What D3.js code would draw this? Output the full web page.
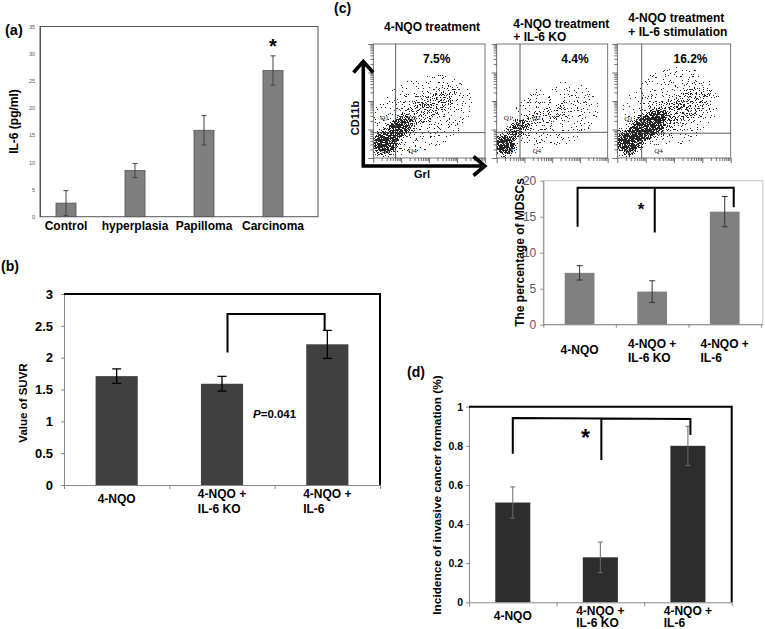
<!DOCTYPE html>
<html><head><meta charset="utf-8">
<script src="https://cdn.jsdelivr.net/npm/d3@7"></script>
<style>body{margin:0;background:#fff}svg{display:block}</style>
</head><body>
<script>
// ---------------- DATA ----------------
const categoriesA = ["Control", "hyperplasia", "Papilloma", "Carcinoma"];
const valuesA = [2.5, 8.5, 15.9, 26.9];
const errorsA = [2.3, 1.3, 2.7, 2.7];
const ticksA = [0, 5, 10, 15, 20, 25, 30, 35];

const groupLabels = [["4-NQO"], ["4-NQO +", "IL-6 KO"], ["4-NQO +", "IL-6"]];

const valuesB = [1.71, 1.59, 2.21];
const errorsB = [0.115, 0.115, 0.22];
const ticksB = [0, 0.5, 1, 1.5, 2, 2.5, 3];

const valuesC = [7.2, 4.6, 15.7];
const errorsC = [1.0, 1.5, 2.1];
const ticksC = [0, 5, 10, 15, 20];

const valuesD = [0.51, 0.23, 0.80];
const errorsD = [0.08, 0.078, 0.10];
const ticksD = [0, 0.2, 0.4, 0.6, 0.8, 1];

const flowTitles = [["4-NQO treatment"], ["4-NQO treatment", "+ IL-6 KO"], ["4-NQO treatment", "+ IL-6 stimulation"]];
const flowPercents = ["7.5%", "4.4%", "16.2%"];
const flowGateX = [0.80, 0.84, 0.86];   // log10 units
const flowGateY = [0.89, 0.90, 0.87];
const flowQuadrants = ["Q1", "Q2", "Q3", "Q4"];
// density clusters: [x(log10), y(log10), rx(dec), ry(dec), angle, density]
const flowDensity1 = [[1.67, 1.51, 2.2, 1.4, -25, 0.15], [1.96, 1.75, 1.6, 0.55, -32, 0.33], [0.9, 1.05, 0.7, 0.45, -35, 0.9], [0.42, 0.53, 0.62, 0.52, 0, 1]];
const flowDensity2 = [[2.1, 1.5, 1.9, 1.3, -20, 0.1], [1.74, 1.4, 1.5, 0.5, -22, 0.24], [0.75, 1.02, 0.6, 0.35, -35, 0.7], [0.30, 0.46, 0.52, 0.46, 0, 1]];
const flowDensity3 = [[1.86, 1.75, 2.0, 1.5, -25, 0.15], [2.14, 1.68, 1.6, 0.65, -28, 0.38], [1.08, 1.12, 0.95, 0.58, -35, 1], [0.38, 0.56, 0.66, 0.55, 0, 1]];
const flowDensity = [flowDensity1, flowDensity2, flowDensity3];

// ---------------- SETUP ----------------
const FONT = "'Liberation Sans', Arial, Helvetica, sans-serif";
const W = 765, H = 629;
const svg = d3.select("body").append("svg").attr("width", W).attr("height", H)
  .style("font-family", FONT);
svg.append("rect").attr("width", W).attr("height", H).attr("fill", "#fff");
const defs = svg.append("defs");

function text(g, x, y, s, o = {}) {
  const t = g.append("text").attr("x", x).attr("y", y).text(s)
    .attr("font-size", o.fs || 12).attr("font-weight", o.fw || "bold")
    .attr("fill", o.fill || "#000").attr("text-anchor", o.anchor || "start");
  if (o.italic) t.attr("font-style", "italic");
  if (o.rotate) t.attr("transform", `rotate(${o.rotate},${x},${y})`);
  if (o.dy) t.attr("dy", o.dy);
  if (o.family) t.attr("font-family", o.family);
  return t;
}

function barPanel(cfg) {
  const g = svg.append("g");
  const x = d3.scaleBand().domain(d3.range(cfg.values.length)).range(cfg.xRange)
    .paddingInner(cfg.pad).paddingOuter(cfg.pad / 2);
  const y = d3.scaleLinear().domain(cfg.yDomain).range(cfg.yRange);
  g.selectAll("rect.bar").data(cfg.values).join("rect").attr("class", "bar")
    .attr("x", (d, i) => x(i)).attr("y", d => y(d))
    .attr("width", x.bandwidth()).attr("height", d => y(0) - y(d))
    .attr("fill", cfg.fill).attr("stroke", cfg.stroke || "none").attr("stroke-width", cfg.strokeW || 0);
  const cw = cfg.capW / 2;
  g.selectAll("path.err").data(cfg.values).join("path").attr("class", "err")
    .attr("d", (d, i) => {
      const cx = x(i) + x.bandwidth() / 2, e = cfg.errors[i];
      const t = y(d + e), b = y(d - e);
      return `M${cx},${t}V${b}M${cx - cw},${t}H${cx + cw}M${cx - cw},${b}H${cx + cw}`;
    })
    .attr("stroke", cfg.errColor).attr("stroke-width", cfg.errW).attr("fill", "none");
  return { g, x, y };
}

function yAxis(p, ticks, o) {
  const ax = d3.axisLeft(p.y).tickValues(ticks).tickSize(o.tickSize).tickPadding(o.pad)
    .tickSizeOuter(0).tickFormat(d => String(d));
  const a = p.g.append("g").attr("transform", `translate(${o.x},0)`).call(ax);
  a.select(".domain").attr("stroke", o.lineColor).attr("stroke-width", o.lineW || 1);
  a.selectAll(".tick line").attr("stroke", o.lineColor);
  a.selectAll(".tick text").attr("font-family", FONT).attr("font-size", o.fs)
    .attr("font-weight", o.fw).attr("fill", o.color);
  return a;
}

function xAxis(p, n, o) {
  const r = p.x.range();
  const xb = d3.scaleLinear().domain([0, n]).range(r);
  const ax = d3.axisBottom(xb).tickValues(d3.range(n + 1)).tickSize(o.tickSize).tickSizeOuter(0).tickFormat("");
  const a = p.g.append("g").attr("transform", `translate(0,${p.y(0)})`).call(ax);
  a.select(".domain").attr("stroke", o.lineColor).attr("stroke-width", 1);
  a.selectAll(".tick line").attr("stroke", o.lineColor);
  if (o.domainRange) a.select(".domain").attr("d", `M${o.domainRange[0]},0H${o.domainRange[1]}`);
}

function catLabels(p, labels, o) {
  labels.forEach((lines, i) => {
    const cx = p.x(i) + p.x.bandwidth() / 2;
    if (lines.length === 1) {
      text(p.g, cx, o.single, lines[0], { fs: o.fs, anchor: "middle" });
    } else {
      const t1 = text(p.g, cx, o.l1, lines[0], { fs: o.fs, anchor: "middle" });
      const w = t1.node().getComputedTextLength();
      text(p.g, cx - w / 2, o.l2, lines[1], { fs: o.fs });
    }
  });
}

// ---------------- PANEL (a) ----------------
{
  const pA = barPanel({
    values: valuesA, errors: errorsA, xRange: [31.5, 307.5], pad: 0.71,
    yDomain: [0, 35], yRange: [216.7, 26.5], fill: "#7f7f7f", stroke: "#555", strokeW: 0.8,
    errColor: "#444", errW: 1, capW: 5
  });
  pA.g.insert("rect", ":first-child").attr("x", 40).attr("y", 26.5).attr("width", 278).attr("height", 190.2)
    .attr("fill", "none").attr("stroke", "#555").attr("stroke-width", 1);
  yAxis(pA, ticksA, { x: 40, tickSize: 0, pad: 5, lineColor: "#555", fs: 5.5, fw: "normal", color: "#555" });
  categoriesA.forEach((c, i) => {
    text(pA.g, pA.x(i) + pA.x.bandwidth() / 2, 230, c, { fs: 12, anchor: "middle" });
  });
  const iMax = valuesA.length - 1;
  text(pA.g, pA.x(iMax) + pA.x.bandwidth() / 2, pA.y(32) + 10, "*", { fs: 20, anchor: "middle" });
  text(pA.g, 14, 121.5, "IL-6 (pg/ml)", { fs: 12, anchor: "middle", rotate: -90, dy: "0.35em" });
  text(svg, 5, 35, "(a)", { fs: 14.5 });
}

// ---------------- PANEL (b) ----------------
{
  const pB = barPanel({
    values: valuesB, errors: errorsB, xRange: [64, 380], pad: 0.6,
    yDomain: [0, 3], yRange: [485, 294], fill: "#404040",
    errColor: "#000", errW: 1.3, capW: 9
  });
  yAxis(pB, ticksB, { x: 64, tickSize: 3, pad: 8, lineColor: "#888", fs: 13, fw: "bold", color: "#000" });
  xAxis(pB, 3, { tickSize: 4, lineColor: "#888" });
  pB.g.append("path").attr("d", `M64,${pB.y(3)}H380V${pB.y(0)}`).attr("fill", "none")
    .attr("stroke", "#000").attr("stroke-width", 2);
  catLabels(pB, groupLabels, { fs: 12, single: 503, l1: 498, l2: 512.5 });
  const c1 = pB.x(1) + pB.x.bandwidth() / 2, c2 = pB.x(2) + pB.x.bandwidth() / 2;
  pB.g.append("path").attr("d", `M${c1 + 5.5},${pB.y(2.08)}V${pB.y(2.685)}H${c2 - 2.7}V${pB.y(2.43)}`)
    .attr("fill", "none").attr("stroke", "#000").attr("stroke-width", 2);
  const pt = pB.g.append("text").attr("x", 253).attr("y", 418).attr("font-size", 11.5).attr("font-weight", "bold");
  pt.append("tspan").attr("font-style", "italic").text("P");
  pt.append("tspan").text("=0.041");
  text(pB.g, 22.5, 403, "Value of SUVR", { fs: 11.5, anchor: "middle", rotate: -90, dy: "0.35em" });
  text(svg, 1, 271, "(b)", { fs: 14 });
}

// ---------------- PANEL (c) flow plots ----------------
{
  const g = svg.append("g");
  text(g, 334, 13, "(c)", { fs: 14 });
  // speckle texture filter (turns density shading into grainy dots)
  const f = defs.append("filter").attr("id", "speck").attr("filterUnits", "userSpaceOnUse")
    .attr("x", 360).attr("y", 30).attr("width", 390).attr("height", 140)
    .attr("color-interpolation-filters", "sRGB");
  f.append("feTurbulence").attr("type", "fractalNoise").attr("baseFrequency", 0.85)
    .attr("numOctaves", 2).attr("seed", 7).attr("result", "noise");
  f.append("feColorMatrix").attr("in", "noise").attr("type", "matrix")
    .attr("values", "0 0 0 0 0  0 0 0 0 0  0 0 0 0 0  3.0 0 0 0 -0.9").attr("result", "na");
  f.append("feComposite").attr("in", "SourceAlpha").attr("in2", "na").attr("operator", "arithmetic")
    .attr("k1", 0).attr("k2", 1).attr("k3", -1).attr("k4", 0.47).attr("result", "diff");
  const ct = f.append("feComponentTransfer").attr("in", "diff").attr("result", "bin");
  ct.append("feFuncA").attr("type", "discrete").attr("tableValues", "0 1");
  f.append("feFlood").attr("flood-color", "#262626").attr("result", "col");
  f.append("feComposite").attr("in", "col").attr("in2", "bin").attr("operator", "in");

  const boxes = [[373.3, 485], [496.7, 607.7], [617.3, 730.7]];
  const top = 44, bot = 158;
  const titlePos = [[432, [31]], [513.3, [27.5, 40.5]], [628.3, [22, 36]]];
  const pctX = [436.7, 575, 690.5];

  boxes.forEach(([x0, x1], i) => {
    const xs = d3.scaleLinear().domain([0, 4]).range([x0, x1]);
    const ys = d3.scaleLinear().domain([0, 4]).range([bot, top]);
    const xl = d3.scaleLog().domain([1, 1e4]).range([x0, x1]);
    const yl = d3.scaleLog().domain([1, 1e4]).range([bot, top]);
    const pxX = (x1 - x0) / 4, pxY = (bot - top) / 4;

    defs.append("clipPath").attr("id", "fc" + i).append("rect")
      .attr("x", x0).attr("y", top).attr("width", x1 - x0).attr("height", bot - top);
    const dg = g.append("g").attr("clip-path", `url(#fc${i})`).append("g").attr("filter", "url(#speck)");
    flowDensity[i].forEach((d, j) => {
      const id = `grad${i}_${j}`;
      const rg = defs.append("radialGradient").attr("id", id);
      rg.append("stop").attr("offset", 0).attr("stop-color", "#000").attr("stop-opacity", d[5]);
      rg.append("stop").attr("offset", 0.55).attr("stop-color", "#000").attr("stop-opacity", d[5] * 0.85);
      rg.append("stop").attr("offset", 1).attr("stop-color", "#000").attr("stop-opacity", 0);
      const cx = xs(d[0]), cy = ys(d[1]);
      dg.append("ellipse").attr("cx", cx).attr("cy", cy).attr("rx", d[2] * pxX).attr("ry", d[3] * pxY)
        .attr("transform", `rotate(${d[4]},${cx},${cy})`).attr("fill", `url(#${id})`);
    });

    // frame
    g.append("rect").attr("x", x0).attr("y", top).attr("width", x1 - x0).attr("height", bot - top)
      .attr("fill", "none").attr("stroke", "#555").attr("stroke-width", 0.8);
    // gates
    g.append("line").attr("x1", xs(flowGateX[i])).attr("x2", xs(flowGateX[i])).attr("y1", top).attr("y2", bot)
      .attr("stroke", "#333").attr("stroke-width", 0.8);
    g.append("line").attr("x1", x0).attr("x2", x1).attr("y1", ys(flowGateY[i])).attr("y2", ys(flowGateY[i]))
      .attr("stroke", "#333").attr("stroke-width", 0.8);
    // log ticks
    const isMajor = v => Math.abs(Math.log10(v) - Math.round(Math.log10(v))) < 1e-9;
    const la = g.append("g").attr("transform", `translate(${x0},0)`)
      .call(d3.axisLeft(yl).tickValues(yl.ticks()).tickFormat("").tickSize(3).tickSizeOuter(0));
    la.select(".domain").remove();
    la.selectAll(".tick line").attr("stroke", "#333").attr("stroke-width", 0.7)
      .attr("x2", d => isMajor(d) ? -5 : -3);
    const ba = g.append("g").attr("transform", `translate(0,${bot})`)
      .call(d3.axisBottom(xl).tickValues(xl.ticks()).tickFormat("").tickSize(3).tickSizeOuter(0));
    ba.select(".domain").remove();
    ba.selectAll(".tick line").attr("stroke", "#333").attr("stroke-width", 0.7)
      .attr("y2", d => isMajor(d) ? 5 : 3);

    // quadrant labels
    const gx = xs(flowGateX[i]), gy = ys(flowGateY[i]);
    const qpos = [[x0 + 7, gy - 12.5], [gx + 12, gy - 12.5], [x0 + 8, 153], [gx + 12.5, 153]];
    flowQuadrants.forEach((q, k) => {
      text(g, qpos[k][0], qpos[k][1], q, { fs: 7, fw: "normal", family: "'Liberation Serif', 'DejaVu Serif', serif", fill: "#111" });
    });
    // titles
    const [tx, tys] = titlePos[i];
    flowTitles[i].forEach((s, k) => {
      text(g, tx, tys[k], s, { fs: 12, anchor: flowTitles[i].length === 1 ? "middle" : "start" });
    });
    text(g, pctX[i], 63, flowPercents[i], { fs: 12, anchor: "middle" });
  });

  // axis arrows
  g.append("path").attr("d", "M363.3,62V166H484").attr("fill", "none").attr("stroke", "#000").attr("stroke-width", 3.6);
  g.append("path").attr("d", "M353.5,72.5L363.3,61.5L373.1,72.5").attr("fill", "none").attr("stroke", "#000").attr("stroke-width", 3.6);
  g.append("path").attr("d", "M473.5,156.5L484.8,166L473.5,175.5").attr("fill", "none").attr("stroke", "#000").attr("stroke-width", 3.6);
  text(g, 355, 118, "CD11b", { fs: 11, anchor: "middle", rotate: -90, dy: "0.35em" });
  text(g, 422, 178, "Grl", { fs: 11, anchor: "middle" });
}

// ---------------- PANEL (c) bar chart ----------------
{
  const pC = barPanel({
    values: valuesC, errors: errorsC, xRange: [543.3, 761], pad: 0.59,
    yDomain: [0, 20], yRange: [324.7, 180.7], fill: "#808080",
    errColor: "#333", errW: 1, capW: 6
  });
  pC.g.insert("rect", ":first-child").attr("x", 543.3).attr("y", 180.7).attr("width", 219.5).attr("height", 144)
    .attr("fill", "none").attr("stroke", "#c4c4c4").attr("stroke-width", 1);
  yAxis(pC, ticksC, { x: 543.3, tickSize: 3, pad: 4, lineColor: "#888", fs: 12, fw: "normal", color: "#595959" });
  xAxis(pC, 3, { tickSize: 3, lineColor: "#888", domainRange: [543.3, 762.8] });
  catLabels(pC, groupLabels, { fs: 12, single: 354, l1: 347.5, l2: 362 });
  const cs = d3.range(3).map(i => pC.x(i) + pC.x.bandwidth() / 2);
  pC.g.append("path")
    .attr("d", `M${cs[0] - 2},${pC.y(13.6)}V${pC.y(19.03)}H${cs[2] + 9}V${pC.y(16.3)}M${cs[1] + 2.6},${pC.y(19.03)}V${pC.y(12.8)}`)
    .attr("fill", "none").attr("stroke", "#000").attr("stroke-width", 2);
  text(pC.g, 641, pC.y(16.4) + 8, "*", { fs: 17, anchor: "middle" });
  text(pC.g, 519.7, 252.5, "The percentage of MDSCs", { fs: 12, anchor: "middle", rotate: -90, dy: "0.35em" });
}

// ---------------- PANEL (d) ----------------
{
  const pD = barPanel({
    values: valuesD, errors: errorsD, xRange: [469, 731.7], pad: 0.6,
    yDomain: [0, 1], yRange: [602.3, 406.7], fill: "#2d2d2d",
    errColor: "#6a6a6a", errW: 1, capW: 5
  });
  yAxis(pD, ticksD, { x: 469, tickSize: 3, pad: 3, lineColor: "#888", fs: 10.5, fw: "bold", color: "#000" });
  xAxis(pD, 3, { tickSize: 4, lineColor: "#888" });
  pD.g.append("path").attr("d", `M469,${pD.y(1)}H731.7V${pD.y(0)}`).attr("fill", "none")
    .attr("stroke", "#000").attr("stroke-width", 2);
  catLabels(pD, groupLabels, { fs: 12, single: 620, l1: 614.5, l2: 627 });
  const cs = d3.range(3).map(i => pD.x(i) + pD.x.bandwidth() / 2);
  pD.g.append("path")
    .attr("d", `M${cs[0]},${pD.y(0.76)}V${pD.y(0.942)}L${cs[2] + 2.5},${pD.y(0.937)}V${pD.y(0.855)}M${cs[1] + 1},${pD.y(0.940)}V${pD.y(0.728)}`)
    .attr("fill", "none").attr("stroke", "#000").attr("stroke-width", 2);
  text(pD.g, 585.5, pD.y(0.857) + 11, "*", { fs: 23, anchor: "middle" });
  text(pD.g, 437, 495, "Incidence of invasive cancer formation (%)", { fs: 11.8, anchor: "middle", rotate: -90, dy: "0.35em" });
  text(svg, 407, 377, "(d)", { fs: 14 });
}
</script>
</body></html>
